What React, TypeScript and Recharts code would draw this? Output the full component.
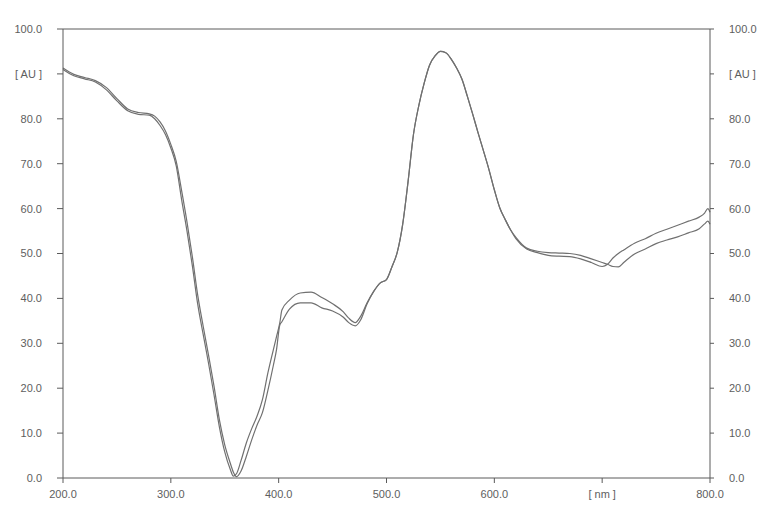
import { LineChart, Line, XAxis, YAxis, ReferenceLine } from 'recharts'

// wavelength grid (nm)
const nm = [
  200, 210, 220, 230, 240, 250, 260, 270, 280, 285, 290, 295, 300, 305, 310, 315, 320, 325, 330, 335,
  340, 345, 350, 355, 358, 361, 365, 370, 375, 380, 385, 390, 395, 398, 401, 403, 410, 420, 430, 440,
  450, 460, 465, 471, 476, 482, 488, 494, 500, 505, 510, 515, 520, 525, 530, 535, 540, 545, 550, 555,
  560, 565, 570, 575, 580, 585, 590, 595, 600, 605, 610, 615, 620, 630, 640, 650, 660, 670, 680, 690,
  700, 705, 710, 715, 720, 730, 740, 750, 760, 770, 780, 790, 795, 798, 800,
]

// first trace [AU]
const traceA = [
  91.0, 89.6, 88.9, 88.2, 86.5, 84.0, 81.8, 81.0, 80.8, 80.0, 78.5, 76.5, 73.5, 69.5, 62.0, 55.0, 47.2, 38.6, 32.0, 25.5,
  18.6, 11.4, 5.8, 2.0, 0.4, 1.0, 3.8, 7.8, 11.0, 13.8, 17.5, 23.4, 28.5, 31.5, 34.5, 37.4, 39.6, 41.2, 41.4, 40.2,
  38.8, 37.0, 35.6, 34.6, 36.0, 39.0, 41.5, 43.4, 44.2, 47.0, 50.3, 56.5, 66.0, 76.5, 83.0, 88.0, 92.0, 94.0, 95.0, 94.7,
  93.3, 91.3, 88.8, 85.0, 81.0, 76.8, 72.8, 68.7, 64.2, 60.2, 57.6, 55.3, 53.3, 51.0, 50.2, 49.6, 49.4, 49.3, 48.8, 48.0,
  47.1, 47.6, 49.0, 50.0, 50.8, 52.3, 53.3, 54.5, 55.4, 56.3, 57.2, 58.1, 59.0, 60.0, 59.2,
]

// second trace [AU]
const traceB = [
  91.3, 89.9, 89.2, 88.5, 87.0, 84.5, 82.2, 81.4, 81.1, 80.6, 79.3, 77.3, 74.3, 70.5, 64.0, 57.0, 49.2, 40.6, 33.8, 27.3,
  20.5, 13.0, 7.4, 3.4, 1.3, 0.3, 1.5, 4.8, 8.5, 11.8, 14.6, 19.5, 25.0, 28.6, 34.0, 34.8, 37.6, 39.0, 39.0, 37.9,
  37.2, 35.8, 34.6, 33.9, 35.2, 38.8, 41.5, 43.4, 44.2, 47.0, 50.3, 56.5, 66.0, 76.5, 83.0, 88.0, 92.0, 94.0, 95.0, 94.7,
  93.3, 91.3, 88.8, 85.0, 81.0, 76.8, 72.8, 68.7, 64.2, 60.2, 57.6, 55.3, 53.6, 51.2, 50.5, 50.2, 50.1, 50.0, 49.6, 48.8,
  48.0, 47.6, 47.1, 47.0, 48.0, 49.9, 51.0, 52.2, 53.0, 53.7, 54.6, 55.5, 56.6, 57.2, 56.5,
]

const xTicks = [200, 300, 400, 500, 600, 700, 800]
const yTicks = [0, 10, 20, 30, 40, 50, 60, 70, 80, 90, 100]

const data = nm.map((x, i) => ({ nm: x, a: traceA[i], b: traceB[i] }))

const AXIS = '#5a5a5a'
const TICK = { fill: '#5e5e5e', fontSize: 11, fontFamily: 'Liberation Sans, Arial, sans-serif' }

const fmtX = (v: number) => (v === 700 ? '[ nm ]' : v.toFixed(1))
const fmtY = (v: number) => (v === 90 ? '[ AU ]' : v.toFixed(1))

export default function App() {
  return (
    <LineChart width={756} height={503} data={data} margin={{ top: 21, right: 0, left: 0, bottom: 0 }}>
      <XAxis
        dataKey="nm"
        type="number"
        domain={[200, 800]}
        ticks={xTicks}
        interval={0}
        tickFormatter={fmtX}
        height={33}
        stroke={AXIS}
        tick={TICK}
        tickSize={5}
        tickMargin={7}
      />
      <YAxis
        yAxisId="l"
        domain={[0, 100]}
        ticks={yTicks}
        interval={0}
        tickFormatter={fmtY}
        width={55}
        stroke={AXIS}
        tick={TICK}
        tickSize={6}
        tickMargin={15}
      />
      <YAxis
        yAxisId="r"
        orientation="right"
        domain={[0, 100]}
        ticks={yTicks}
        interval={0}
        tickFormatter={fmtY}
        width={54}
        stroke={AXIS}
        tick={TICK}
        tickSize={4}
        tickMargin={15}
      />
      <ReferenceLine yAxisId="l" y={100} stroke={AXIS} />
      <Line yAxisId="l" type="monotone" dataKey="a" stroke="#707070" strokeWidth={1.2} dot={false} isAnimationActive={false} />
      <Line yAxisId="r" type="monotone" dataKey="b" stroke="#707070" strokeWidth={1.2} dot={false} isAnimationActive={false} />
    </LineChart>
  )
}
